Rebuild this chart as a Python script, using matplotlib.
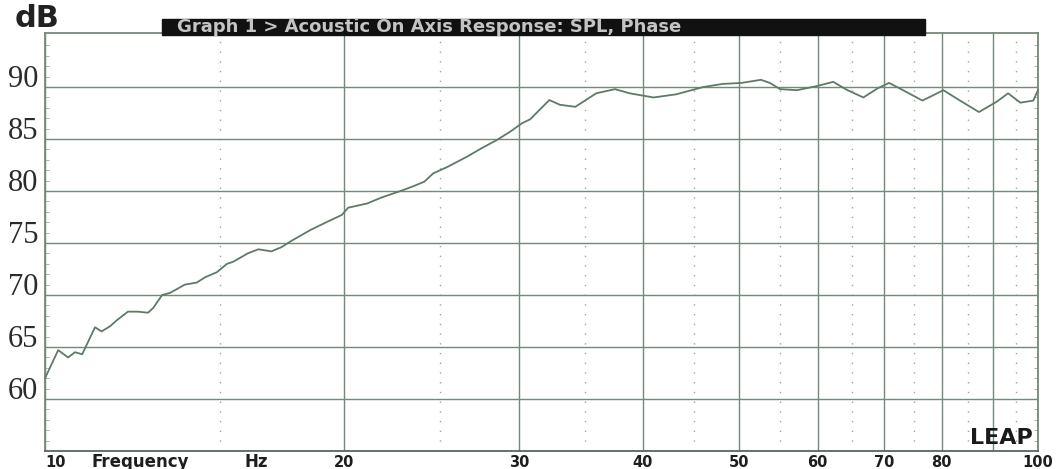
import numpy as np
import matplotlib.pyplot as plt
from matplotlib.patches import Rectangle
from matplotlib.ticker import FixedLocator, NullFormatter

# frequency response (Hz, dB SPL)
freq = [10.0, 10.31, 10.55, 10.72, 10.9, 11.23, 11.4, 11.63, 11.82, 12.12,
        12.4, 12.7, 12.85, 13.12, 13.36, 13.83, 14.22, 14.49, 14.9, 15.25,
        15.47, 16.0, 16.4, 16.9, 17.3, 17.7, 18.5, 19.2, 19.9, 20.2,
        21.1, 21.85, 22.8, 23.4, 24.1, 24.6, 25.4, 26.6, 27.5, 28.5,
        29.4, 30.2, 30.8, 32.2, 33.0, 34.2, 35.9, 37.5, 38.8, 41.0,
        43.2, 46.0, 48.1, 50.3, 52.6, 53.7, 55.0, 57.2, 59.9, 62.2,
        64.3, 66.7, 69.0, 70.8, 72.8, 76.5, 80.3, 83.3, 87.2, 90.9,
        93.3, 96.0, 98.9, 100.0]
spl = [62.0, 64.7, 64.0, 64.5, 64.3, 66.9, 66.5, 67.0, 67.6, 68.4,
       68.4, 68.3, 68.75, 70.0, 70.2, 71.0, 71.2, 71.7, 72.2, 73.0,
       73.2, 74.0, 74.4, 74.2, 74.6, 75.2, 76.25, 77.0, 77.7, 78.4,
       78.8, 79.4, 80.0, 80.4, 80.9, 81.7, 82.3, 83.3, 84.1, 84.9,
       85.7, 86.5, 86.9, 88.75, 88.3, 88.1, 89.4, 89.8, 89.4, 89.0,
       89.3, 90.0, 90.3, 90.4, 90.7, 90.4, 89.8, 89.7, 90.1, 90.5,
       89.7, 89.0, 89.9, 90.4, 89.8, 88.7, 89.7, 88.75, 87.6, 88.6,
       89.4, 88.5, 88.7, 89.7]

x_major = [10, 20, 30, 40, 50, 60, 70, 80, 90, 100]
x_labels = ["10", "20", "30", "40", "50", "60", "70", "80", "", "100"]
x_minor = [15, 25, 35, 45, 55, 65, 75, 85, 95]
y_major = [60, 65, 70, 75, 80, 85, 90]
y_labels = ["60", "65", "70", "75", "80", "85", "90"]

grid_col = "#74897a"
line_col = "#5f7a67"

fig = plt.figure(figsize=(10.62, 4.69), dpi=100)
ax = fig.add_axes([45 / 1062, 18 / 469, 993 / 1062, 418 / 469])

ax.plot(freq, spl, color=line_col, lw=1.3, zorder=3, clip_on=False)

ax.set_xscale("log")
ax.set_xlim(10, 100)
ax.set_ylim(55, 95.2)

ax.xaxis.set_major_locator(FixedLocator(x_major))
ax.set_xticklabels(x_labels)
ax.xaxis.set_minor_locator(FixedLocator(x_minor))
ax.xaxis.set_minor_formatter(NullFormatter())
ax.set_yticks(y_major)
ax.set_yticklabels(y_labels)
ax.yaxis.set_minor_locator(FixedLocator(np.arange(56, 95, 1)))

ax.tick_params(axis="x", which="both", length=0, pad=3, labelsize=10.5)
ax.tick_params(axis="y", which="major", length=0, pad=5, labelsize=22)
ax.tick_params(axis="y", which="minor", length=3, direction="in",
               left=True, right=True, color="#9aa69d")

for lbl in ax.get_xticklabels():
    lbl.set_fontweight("bold")
    lbl.set_color("#1e1e1e")
ax.get_xticklabels()[0].set_ha("left")
for lbl in ax.get_yticklabels():
    lbl.set_family("Liberation Serif")
    lbl.set_va("baseline")
    lbl.set_color("#2b2b2b")

ax.grid(axis="both", which="major", color=grid_col, lw=1.0)
ax.grid(axis="x", which="minor", color="#9aa69d", lw=1.0, ls=(0, (1, 6)))
for s in ax.spines.values():
    s.set_color(grid_col)
    s.set_linewidth(1.3)
ax.spines["bottom"].set_color("#5c645e")

# header text
fig.text(15 / 1062, 1 - 33 / 469, "dB", fontsize=22, fontweight="bold",
         color="#222222", ha="left", va="bottom")
fig.patches.append(Rectangle((162 / 1062, 1 - 35 / 469), 763 / 1062, 16 / 469,
                             transform=fig.transFigure, color="#111111",
                             zorder=5))
fig.text(177 / 1062, 1 - 27 / 469,
         "Graph 1 > Acoustic On Axis Response: SPL, Phase",
         fontsize=13, fontweight="bold", color="#c4c4c4", ha="left",
         va="center", zorder=6)

xt = ax.get_xaxis_transform()
ax.text(11.15, -0.026, "Frequency", transform=xt, fontsize=12,
        fontweight="bold", color="#1e1e1e", ha="left", va="center")
ax.text(15.9, -0.026, "Hz", transform=xt, fontsize=12,
        fontweight="bold", color="#1e1e1e", ha="left", va="center")
ax.text(98.9, 0.007, "LEAP", transform=xt, fontsize=16, fontweight="bold",
        color="#1a1a1a", ha="right", va="bottom", zorder=4)

fig.savefig("out.png", dpi=100)
